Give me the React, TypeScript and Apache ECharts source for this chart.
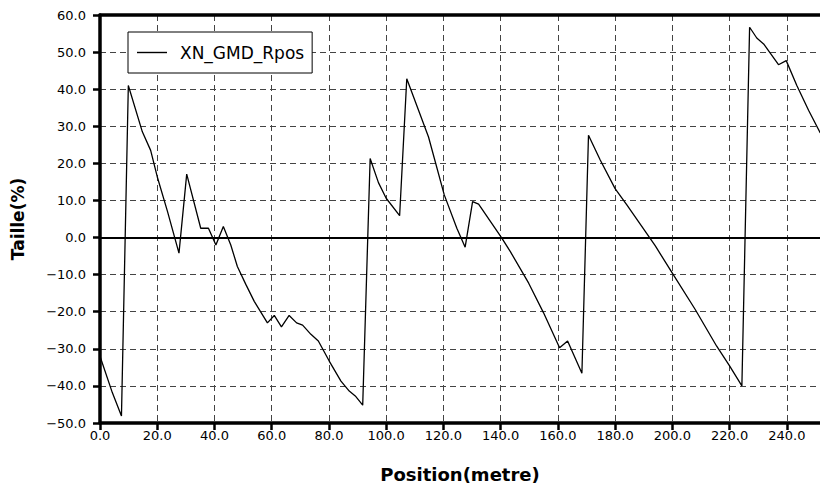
import React, { useEffect, useRef } from "react";
import * as echarts from "echarts";

const seriesName = "XN_GMD_Rpos";
const positions = [0, 4.3, 7.5, 9.9, 14.8, 17.7, 20.0, 23.6, 27.6, 30.3, 35.2, 37.9, 40.5, 43.1, 45.7, 48.0, 51.0, 53.9, 58.5, 60.9, 63.4, 66.1, 68.7, 70.8, 73.7, 76.3, 80.1, 84.2, 87.1, 89.2, 91.8, 94.4, 97.3, 100.0, 104.7, 107.2, 114.8, 120.3, 124.7, 127.6, 130.2, 132.3, 140.3, 143.4, 149.8, 155.0, 160.6, 163.4, 168.4, 170.7, 174.8, 180.0, 184.1, 194.0, 200.0, 208.0, 215.5, 220.0, 224.3, 227.0, 229.5, 231.9, 237.1, 239.8, 243.5, 247.6, 251.7];
const values = [-32.0, -41.8, -48.1, 41.0, 28.5, 23.5, 16.4, 7.0, -4.2, 17.1, 2.5, 2.5, -2.0, 3.0, -2.0, -7.8, -12.7, -17.2, -23.0, -21.0, -24.1, -21.0, -23.0, -23.6, -26.1, -27.9, -33.3, -38.7, -41.4, -42.7, -45.2, 21.3, 14.8, 10.6, 5.9, 42.8, 27.1, 11.5, 2.5, -2.6, 9.7, 9.0, 0.0, -3.8, -12.3, -20.3, -29.7, -27.9, -36.6, 27.6, 20.9, 13.2, 8.8, -2.2, -9.6, -19.4, -29.3, -34.6, -40.0, 56.7, 53.8, 52.2, 46.6, 47.7, 41.0, 34.3, 28.2];

const xMin = 0;
const xMax = 251.6;
const xStep = 20;
const yMin = -50;
const yMax = 60;
const yStep = 10;

const FONT = "DejaVu Sans";

export default function App() {
  const ref = useRef<HTMLDivElement>(null);
  useEffect(() => {
    document.body.style.margin = "0";
    const chart = echarts.init(ref.current!, null, { renderer: "svg" });
    const data = positions.map((p, i) => [p, values[i]]);
    const gridLine = { show: true, lineStyle: { color: "#444", width: 1, type: [6, 4] as any } };
    chart.setOption({
      animation: false,
      backgroundColor: "#fff",
      grid: { left: 100, right: 0, top: 15, bottom: 63 },
      legend: {
        left: 128,
        top: 32,
        orient: "horizontal",
        backgroundColor: "#fff",
        borderColor: "#000",
        borderWidth: 1,
        borderRadius: 0,
        padding: [12, 8, 12, 9],
        itemWidth: 30,
        itemHeight: 1.4,
        icon: "rect",
        itemStyle: { color: "#000" },
        textStyle: { fontFamily: FONT, fontSize: 17, color: "#000", padding: [0, 0, 0, 8] },
        data: [seriesName],
      },
      xAxis: [
        {
          type: "value",
          min: xMin,
          max: xMax,
          interval: xStep,
          name: "Position(metre)",
          nameLocation: "middle",
          nameGap: 42,
          nameTextStyle: { fontFamily: FONT, fontSize: 18, fontWeight: "bold", color: "#000" },
          axisLine: { show: true, onZero: false, lineStyle: { color: "#000", width: 3.5 } },
          axisTick: { show: true, length: 7, lineStyle: { color: "#000", width: 2.5 } },
          axisLabel: {
            fontFamily: FONT,
            fontSize: 13,
            color: "#000",
            margin: 6,
            showMaxLabel: false,
            formatter: (v: number) => v.toFixed(1),
          },
          splitLine: gridLine,
        },
        {
          type: "value",
          position: "top",
          min: xMin,
          max: xMax,
          interval: xStep,
          axisLine: { show: true, onZero: false, lineStyle: { color: "#000", width: 3.5 } },
          axisTick: { show: false },
          axisLabel: { show: false },
          splitLine: { show: false },
        },
      ],
      yAxis: {
        type: "value",
        min: yMin,
        max: yMax,
        interval: yStep,
        name: "Taille(%)",
        nameLocation: "middle",
        nameGap: 74,
        nameTextStyle: { fontFamily: FONT, fontSize: 17, fontWeight: "bold", color: "#000" },
        axisLine: { show: true, onZero: false, lineStyle: { color: "#000", width: 3.5 } },
        axisTick: { show: true, length: 7, lineStyle: { color: "#000", width: 2.5 } },
        axisLabel: {
          fontFamily: FONT,
          fontSize: 13,
          color: "#000",
          margin: 14,
          formatter: (v: number) => v.toFixed(1).replace("-", "\u2212"),
        },
        splitLine: gridLine,
      },
      series: [
        {
          name: seriesName,
          type: "line",
          xAxisIndex: 0,
          data,
          symbol: "none",
          showSymbol: false,
          lineStyle: { color: "#000", width: 1.3 },
          itemStyle: { color: "#000" },
          markLine: {
            silent: true,
            symbol: ["none", "none"],
            label: { show: false },
            lineStyle: { color: "#000", width: 2, type: "solid" },
            data: [{ yAxis: 0 }],
          },
        },
      ],
    });
    return () => chart.dispose();
  }, []);
  return <div ref={ref} style={{ position: "absolute", left: 0, top: 0, width: 820, height: 488 }} />;
}
